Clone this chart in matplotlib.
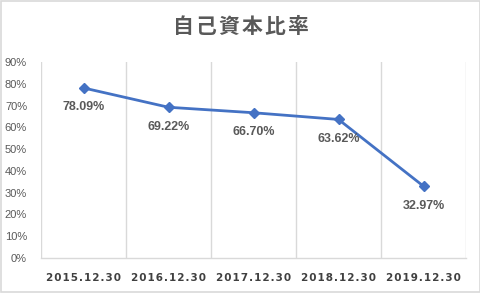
import matplotlib
matplotlib.use('Agg')
import matplotlib.pyplot as plt
from matplotlib.patches import Rectangle
from matplotlib.ticker import FuncFormatter, MultipleLocator

dates = ['2015.12.30', '2016.12.30', '2017.12.30', '2018.12.30', '2019.12.30']
ratios = [78.09, 69.22, 66.70, 63.62, 32.97]
title = '自己資本比率'

LINE = '#4472C4'
TEXT = '#595959'
GRID = '#D9D9D9'


def spaced(s, sep='\u200a'):
    # poor man's letter spacing
    return sep.join(s)


fig = plt.figure(figsize=(4.81, 2.93), dpi=100)
fig.patch.set_facecolor('white')
fig.patches.append(Rectangle((0.002, 0.003), 0.996, 0.994, transform=fig.transFigure,
                             fill=False, edgecolor=GRID, linewidth=1.2))

ax = fig.add_axes([41 / 481, 35 / 293, 425 / 481, 196 / 293])
x = list(range(len(dates)))
ax.plot(x, ratios, color=LINE, linewidth=2, marker='D', markersize=5,
        markerfacecolor=LINE, markeredgecolor=LINE)

for xi, v in zip(x, ratios):
    ax.annotate('{:.2f}%'.format(v), (xi, v), xytext=(0, -14), textcoords='offset points',
                ha='center', va='center', color=TEXT, fontsize=9, fontweight='bold',
                family='Liberation Sans')

ax.set_xlim(-0.5, len(dates) - 0.5)
ax.set_ylim(0, 90)
ax.yaxis.set_major_locator(MultipleLocator(10))
ax.yaxis.set_major_formatter(FuncFormatter(lambda v, p: '{:.0f}%'.format(v)))

# vertical grid lines between categories
for b in [i - 0.5 for i in range(len(dates) + 1)]:
    ax.axvline(b, color=GRID, linewidth=1, zorder=0)

for side in ['top', 'right', 'left']:
    ax.spines[side].set_visible(False)
ax.spines['bottom'].set_color(GRID)
ax.spines['bottom'].set_linewidth(1)

ax.set_xticks(x)
ax.set_xticklabels([spaced(d) for d in dates], fontsize=7.5, fontweight='bold',
                   color='#404040', family='DejaVu Sans')
ax.tick_params(axis='x', length=0, pad=11)
ax.tick_params(axis='y', length=0, pad=10)
for lab in ax.get_yticklabels():
    lab.set_fontfamily('Liberation Sans')
    lab.set_fontsize(8)
    lab.set_color(TEXT)

fig.text(0.5, 0.908, spaced(title), ha='center', va='center', fontsize=15,
         fontweight='bold', color=TEXT, family=['Noto Sans CJK JP', 'DejaVu Sans'])

fig.savefig('out.png', dpi=100, facecolor='white')
